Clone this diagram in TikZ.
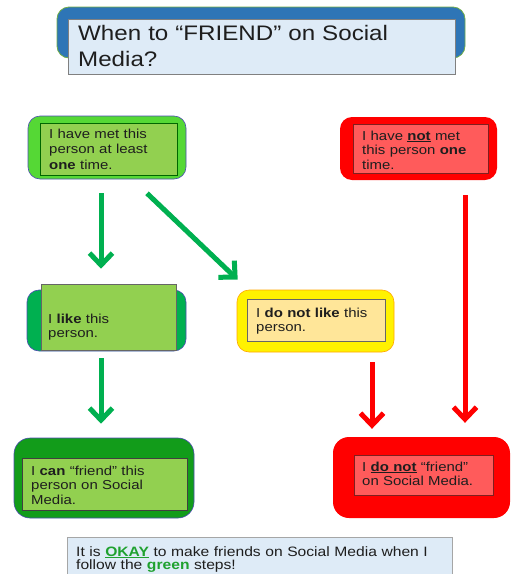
\documentclass[tikz,border=0pt]{standalone}
\usepackage{fontspec}
\setmainfont{Liberation Sans}[FakeStretch=1.15]
\usetikzlibrary{arrows.meta,calc}
\definecolor{tblue}{HTML}{2E75B6}
\definecolor{tgreenline}{HTML}{70AD47}
\definecolor{paleblue}{HTML}{DEEBF7}
\definecolor{brightgreen}{HTML}{55D835}
\definecolor{lgreen}{HTML}{92D050}
\definecolor{mgreen}{HTML}{00B050}
\definecolor{dgreen}{HTML}{129C1A}
\definecolor{lred}{HTML}{FF5B5B}
\definecolor{dred}{HTML}{7F1F1F}
\definecolor{lyellow}{HTML}{FFE699}
\definecolor{okgreen}{HTML}{1FA12F}
\definecolor{txtc}{HTML}{1E1E1E}
\tikzset{
  obox/.style={rectangle, rounded corners=12pt, inner sep=0pt},
  ibox/.style={rectangle, inner sep=0pt, line width=0.6pt},
  btxt/.style={inner sep=0pt, anchor=base west, text width=#1, align=left, text=txtc,
     font=\fontsize{13}{14.8}\selectfont},
  garr/.style={draw=mgreen, line width=5pt, -{Straight Barb[length=12pt,width=23pt]}},
  rarr/.style={draw=red, line width=5pt, -{Straight Barb[length=12pt,width=23pt]}},
}
\begin{document}
\begin{tikzpicture}[x=1pt,y=-1pt]
\useasboundingbox (0,0) rectangle (512,574);
% title
\node[obox, fill=tblue, draw=tgreenline, line width=0.8pt, minimum width=408pt, minimum height=51pt] (tO) at (261,32.5) {};
\node[ibox, fill=paleblue, draw=gray, minimum width=387pt, minimum height=55pt] (tI) at (261.5,46.5) {};
\node[inner sep=0pt, anchor=base west, text width=370pt, align=left, text=txtc,
  font=\fontsize{21}{26}\selectfont] (tT) at (78,40) {When to “FRIEND” on Social\\Media?};
% box 1
\node[obox, fill=brightgreen, draw=blue!40!gray, line width=0.6pt, minimum width=158pt, minimum height=63pt] (b1o) at (107,147.5) {};
\node[ibox, fill=lgreen, draw=black!60!green, minimum width=137pt, minimum height=52pt] (b1i) at (108.5,149) {};
\node[btxt=125pt] (b1t) at (49,138.5) {I have met this\\[0.6pt]person at least\\[0.6pt]\textbf{one} time.};
% box 2
\node[obox, fill=red, minimum width=157pt, minimum height=63pt] (b2o) at (418.5,148.5) {};
\node[ibox, fill=lred, draw=dred, minimum width=135pt, minimum height=49pt] (b2i) at (420.5,148.5) {};
\node[btxt=125pt] (b2t) at (362,140) {I have \underline{\textbf{not}} met\\this person \textbf{one}\\time.};
% box 3
\node[obox, fill=mgreen, draw=blue!40!gray, line width=0.6pt, minimum width=159pt, minimum height=61pt] (b3o) at (106.5,320.5) {};
\node[ibox, fill=lgreen, draw=gray!80!black, minimum width=135pt, minimum height=66pt] (b3i) at (108.5,317) {};
\node[btxt=125pt] (b3t) at (48,323) {I \textbf{like} this\\person.};
% box 4
\node[obox, fill=yellow, draw=orange!70!yellow, line width=0.6pt, minimum width=157pt, minimum height=62pt] (b4o) at (315.5,321) {};
\node[ibox, fill=lyellow, draw=gray!80!black, minimum width=138pt, minimum height=42pt] (b4i) at (316,320) {};
\node[btxt=125pt] (b4t) at (256,317) {I \textbf{do not like} this\\person.};
% box 5
\node[obox, rounded corners=16pt, fill=dgreen, draw=blue!40!gray, line width=0.6pt, minimum width=180pt, minimum height=80pt] (b5o) at (104,478) {};
\node[ibox, fill=lgreen, draw=black!75, minimum width=165pt, minimum height=52pt] (b5i) at (104.5,484) {};
\node[btxt=150pt] (b5t) at (31,475) {I \textbf{can} “friend” this\\person on Social\\Media.};
% box 6
\node[obox, rounded corners=16pt, fill=red, minimum width=177pt, minimum height=81pt] (b6o) at (421.5,477.5) {};
\node[ibox, fill=lred, draw=dred, minimum width=139pt, minimum height=40pt] (b6i) at (423.5,475) {};
\node[btxt=130pt] (b6t) at (362,471) {I \underline{\textbf{do not}} “friend”\\on Social Media.};
% bottom
\node[ibox, fill=paleblue, draw=gray!70, minimum width=385pt, minimum height=40pt] (bb) at (259.5,557) {};
\node[btxt=380pt, font=\fontsize{13.6}{13}\selectfont] (bt) at (76,556) {It is \textcolor{okgreen}{\underline{\textbf{OKAY}}} to make friends on Social Media when I\\follow the \textcolor{okgreen}{\textbf{green}} steps!};
% arrows
\draw[garr] ($(b1o.south)+(-6,14)$) -- ($(b3i.north)+(-7.5,-15)$);
\draw[garr] ($(b1o.south)+(40,14)$) -- ($(b4o.north west)+(1,-10)$);
\draw[garr] ($(b3o.south)+(-5.5,7)$) -- ($(b5o.north)+(-3,-14)$);
\draw[rarr] ($(b4o.south)+(56.5,10)$) -- ($(b6o.north)+(-49.5,-8)$);
\draw[rarr] ($(b2o.south)+(46.5,15)$) -- ($(b6o.north)+(43.5,-14)$);
\end{tikzpicture}
\end{document}
